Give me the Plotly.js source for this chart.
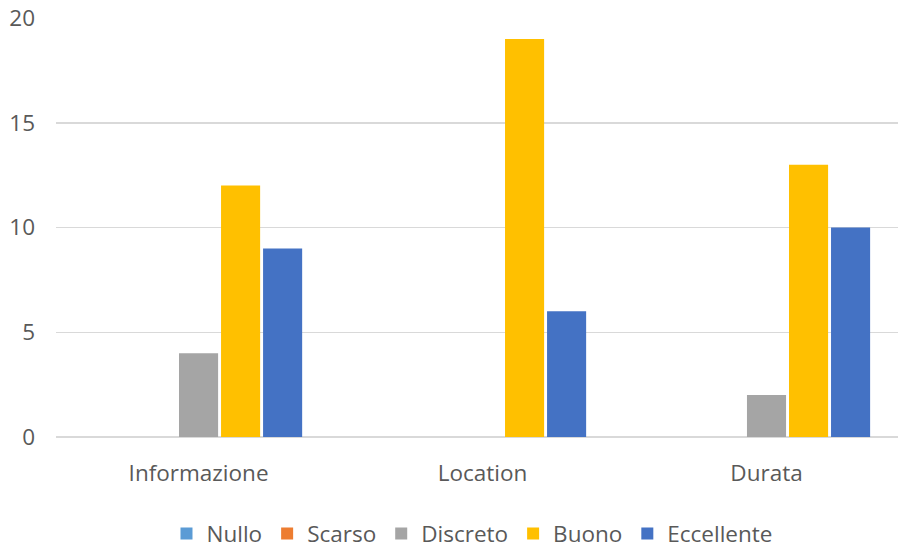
<!DOCTYPE html>
<html>
<head>
<meta charset="utf-8">
<script src="https://cdn.plot.ly/plotly-3.0.1.min.js"></script>
<style>html,body{margin:0;padding:0;background:#fff;}#chart{width:898px;height:548px;}</style>
</head>
<body>
<div id="chart"></div>
<script>
const categories = ["Informazione", "Location", "Durata"];
const seriesNames = ["Nullo", "Scarso", "Discreto", "Buono", "Eccellente"];
const nullo = [0, 0, 0];
const scarso = [0, 0, 0];
const discreto = [4, 0, 2];
const buono = [12, 19, 13];
const eccellente = [9, 6, 10];
const yTicks = [0, 5, 10, 15, 20];

const colors = ["#5B9BD5", "#ED7D31", "#A5A5A5", "#FFC000", "#4472C4"];
const values = [nullo, scarso, discreto, buono, eccellente];

const traces = seriesNames.map((name, i) => ({
  type: "bar",
  name: name,
  x: categories,
  y: values[i],
  marker: {color: colors[i]},
  hoverinfo: "x+y+name"
}));

const fam = "Open Sans, Noto Sans, sans-serif";
const fs = 22.5;
const font = {family: fam, color: "#595959", size: fs};

const layout = {
  width: 898, height: 548,
  margin: {l: 56, r: 0, t: 18, b: 111},
  paper_bgcolor: "#fff", plot_bgcolor: "#fff",
  barmode: "group",
  bargap: 0.26,
  bargroupgap: 0.07,
  font: font,
  showlegend: true,
  legend: {
    orientation: "h", xref: "container", yref: "container",
    x: 0.5256, xanchor: "center", y: 0.026, yanchor: "middle",
    font: {family: fam, size: fs, color: "#595959"},
    itemwidth: 30, tracegroupgap: 0
  },
  xaxis: {
    type: "category",
    range: [-0.502, 2.463],
    showgrid: false, zeroline: false,
    showline: false,
    ticks: "",
    tickfont: {family: fam, size: fs, color: "#595959"},
    ticklabelstandoff: 20
  },
  yaxis: {
    range: [0, 20],
    tickvals: yTicks,
    ticktext: yTicks.map(String),
    showgrid: true, gridcolor: "#D9D9D9", gridwidth: 1.5,
    zeroline: true, zerolinecolor: "#D9D9D9", zerolinewidth: 1.5,
    showline: false, ticks: "",
    tickfont: {family: fam, size: fs, color: "#595959"},
    ticklabelstandoff: 20
  }
};

Plotly.newPlot("chart", traces, layout, {displayModeBar: false, staticPlot: true});
</script>
</body>
</html>
